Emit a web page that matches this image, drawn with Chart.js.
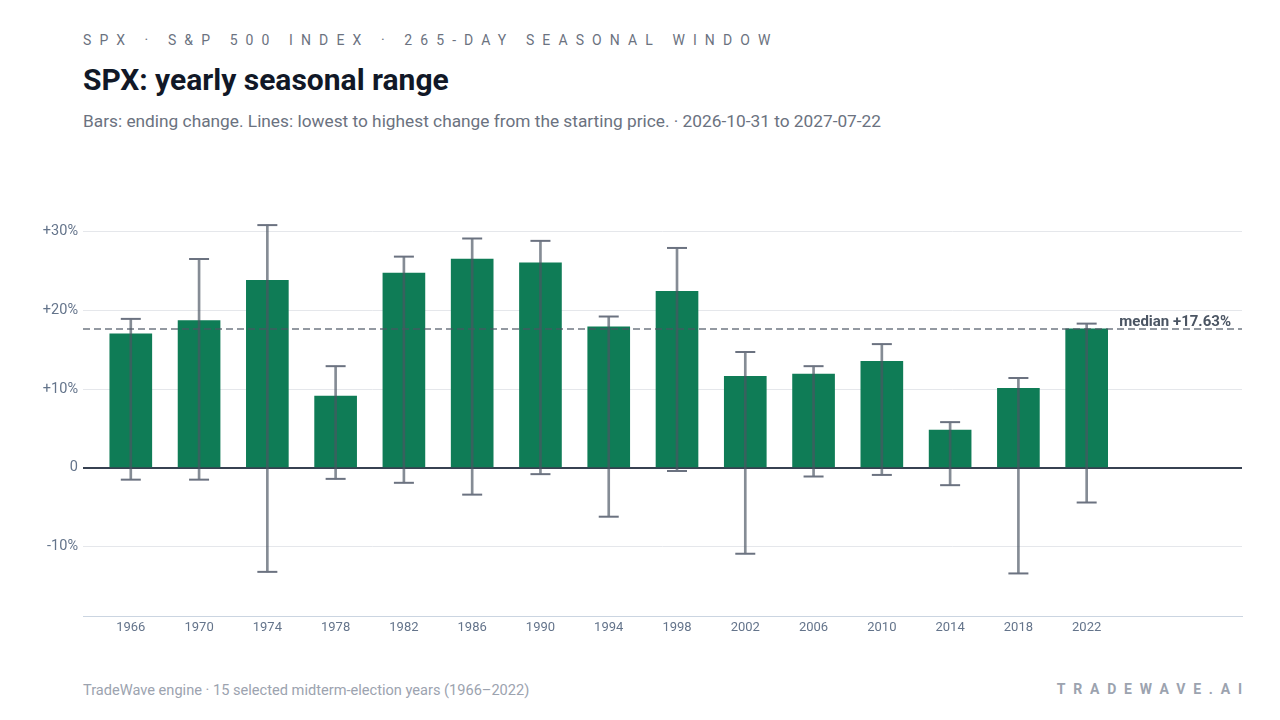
<!DOCTYPE html>
<html>
<head>
<meta charset="utf-8">
<script src="https://cdn.jsdelivr.net/npm/chart.js@4.4.1/dist/chart.umd.min.js"></script>
<style>
	html, body { margin: 0; padding: 0; background: #fff; }
	body { width: 1280px; height: 720px; position: relative; overflow: hidden; font-family: Roboto, 'Noto Sans', sans-serif; }
	.kicker { position: absolute; left: 83px; top: 32px; font-size: 14px; letter-spacing: 8.1px; color: #6b7280; white-space: nowrap; }
	.title { position: absolute; left: 83px; top: 62px; font-size: 30px; font-weight: 700; color: #111827; white-space: nowrap; }
	.subtitle { position: absolute; left: 83px; top: 111px; font-size: 17.3px; color: #6b7280; white-space: nowrap; }
	.footer { position: absolute; left: 83px; top: 681px; font-size: 14.6px; color: #9ca3af; white-space: nowrap; }
	.brand { position: absolute; right: 38px; top: 681px; font-size: 14px; font-weight: 700; letter-spacing: 7.8px; margin-right: -7.8px; color: #9ca3af; white-space: nowrap; }
	#wrap { position: absolute; left: 0; top: 150px; width: 1280px; height: 500px; }
</style>
</head>
<body>
<div class="kicker">SPX · S&amp;P 500 INDEX · 265-DAY SEASONAL WINDOW</div>
<div class="title">SPX: yearly seasonal range</div>
<div class="subtitle">Bars: ending change. Lines: lowest to highest change from the starting price. · 2026-10-31 to 2027-07-22</div>
<div id="wrap"><canvas id="chart" width="1280" height="500"></canvas></div>
<div class="footer">TradeWave engine · 15 selected midterm-election years (1966–2022)</div>
<div class="brand">TRADEWAVE.AI</div>
<script>
// midterm years shown on the axis
const years = [1966, 1970, 1974, 1978, 1982, 1986, 1990, 1994, 1998, 2002, 2006, 2010, 2014, 2018, 2022]
// visible year span of the x axis (leaves empty room at the right end)
const xRange = [1963.2, 2031.1]

// ending change, %
const endChange = [17.0, 18.7, 23.8, 9.1, 24.7, 26.5, 26.0, 17.9, 22.4, 11.6, 11.9, 13.5, 4.8, 10.1, 17.63]
// highest change during window, %
const highChange = [18.9, 26.5, 30.8, 12.9, 26.8, 29.1, 28.8, 19.2, 27.9, 14.7, 12.9, 15.7, 5.8, 11.4, 18.3]
// lowest change during window, %
const lowChange = [-1.5, -1.5, -13.2, -1.4, -1.9, -3.4, -0.8, -6.2, -0.4, -10.9, -1.1, -0.9, -2.2, -13.4, -4.4]

const medianChange = 17.63
const yTicks = [-10, 0, 10, 20, 30]
const yRange = [-18.8, 35]

const whiskerColor = 'rgba(75, 85, 99, 0.68)'

const medianLine = {
	id: 'medianLine',
	afterDatasetsDraw(chart) {
		const { ctx, chartArea, scales } = chart
		const y = scales.y.getPixelForValue(medianChange)
		ctx.save()
		ctx.strokeStyle = 'rgba(75, 85, 99, 0.6)'
		ctx.lineWidth = 2
		ctx.setLineDash([7, 4])
		ctx.beginPath()
		ctx.moveTo(chartArea.left, y)
		ctx.lineTo(chartArea.right, y)
		ctx.stroke()
		ctx.setLineDash([])
		ctx.fillStyle = '#4b5563'
		ctx.font = 'bold 15px Roboto'
		ctx.textAlign = 'right'
		ctx.textBaseline = 'bottom'
		ctx.fillText('median +' + medianChange.toFixed(2) + '%', chartArea.right - 11, y + 1)
		ctx.restore()
	},
}

const capStyle = {
	type: 'line',
	showLine: false,
	pointStyle: 'line',
	pointRadius: 10,
	pointHoverRadius: 10,
	pointBorderWidth: 2,
	pointBorderColor: '#6b7280',
	order: 1,
}

new Chart(document.getElementById('chart'), {
	type: 'bar',
	data: {
		datasets: [
			{
				label: 'ending',
				data: years.map((yr, i) => ({ x: yr, y: endChange[i] })),
				backgroundColor: '#0f7c56',
				barThickness: 42,
				order: 3,
			},
			{
				label: 'range',
				data: years.map((yr, i) => ({ x: yr, y: [lowChange[i], highChange[i]] })),
				backgroundColor: whiskerColor,
				barThickness: 2,
				grouped: false,
				order: 2,
			},
			{ ...capStyle, label: 'high', data: years.map((yr, i) => ({ x: yr, y: highChange[i] })) },
			{ ...capStyle, label: 'low', data: years.map((yr, i) => ({ x: yr, y: lowChange[i] })) },
		],
	},
	options: {
		responsive: false,
		animation: false,
		layout: { padding: { top: 42, right: 38, left: 0, bottom: 0 } },
		plugins: { legend: { display: false }, tooltip: { enabled: false } },
		scales: {
			x: {
				type: 'linear',
				min: xRange[0],
				max: xRange[1],
				offset: false,
				grid: { display: false },
				border: { color: '#cbd5e1', width: 1 },
				ticks: { color: '#64748b', font: { family: 'Roboto', size: 13 }, padding: -4, maxRotation: 0, callback: (v) => String(v) },
				afterBuildTicks: (scale) => { scale.ticks = years.map((v) => ({ value: v })) },
				afterFit: (scale) => { scale.height = 34 },
			},
			y: {
				min: yRange[0],
				max: yRange[1],
				border: { display: false },
				grid: {
					drawTicks: false,
					color: (c) => (c.tick && c.tick.value === 0 ? '#374151' : '#e5e7eb'),
					lineWidth: (c) => (c.tick && c.tick.value === 0 ? 2 : 1),
				},
				ticks: {
					color: '#64748b',
					font: { family: 'Roboto', size: 14.5 },
					padding: 5,
					callback: (v) => (v > 0 ? '+' + v + '%' : v < 0 ? v + '%' : '0'),
				},
				afterBuildTicks: (scale) => { scale.ticks = yTicks.map((v) => ({ value: v })) },
				afterFit: (scale) => { scale.width = 83 },
			},
		},
	},
	plugins: [medianLine],
})
</script>
</body>
</html>
